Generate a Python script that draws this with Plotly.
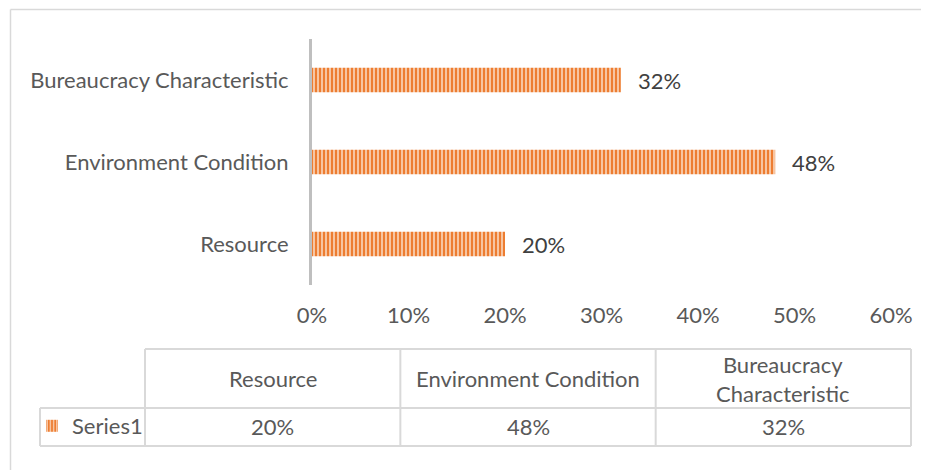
import plotly.graph_objects as go

# ---------------- data ----------------
categories = ["Resource", "Environment Condition", "Bureaucracy Characteristic"]
values = [0.20, 0.48, 0.32]
series_name = "Series1"
x_tick_values = [0, 0.1, 0.2, 0.3, 0.4, 0.5, 0.6]
x_tick_labels = ["0%", "10%", "20%", "30%", "40%", "50%", "60%"]
table_headers = ["Resource", "Environment Condition", "Bureaucracy<br>Characteristic"]
table_values = ["20%", "48%", "32%"]

# ---------------- layout geometry (screen pixels, page body has 8px margin) ----------------
OFF = 8
W, H = 929 - OFF, 470 - OFF
PLOT_X0, PLOT_X1, PLOT_Y0, PLOT_Y1 = 312, 891, 39, 285  # screen coords
L = PLOT_X0 - OFF
R = W - (PLOT_X1 - OFF)
T = PLOT_Y0 - OFF
B = H - (PLOT_Y1 - OFF)
PW = W - L - R
PH = H - T - B

def px(x):
    return (x - PLOT_X0) / PW

def py(y):
    return (PLOT_Y1 - y) / PH

FONT = "Lato"
FS = 22
TICK_COLOR = "#595959"
LABEL_COLOR = "#404040"
GRID = "#D9D9D9"

fig = go.Figure()
fig.add_trace(go.Bar(
    y=categories, x=values, orientation="h", name=series_name,
    marker=dict(
        color="#ED7D31",
        line=dict(width=0),
        pattern=dict(shape="|", fillmode="replace", bgcolor="#ED7D31",
                     fgcolor="#F9CDAE", size=4, solidity=0.45),
    ),
    showlegend=True,
))

# data labels
for c, v in zip(categories, values):
    fig.add_annotation(x=v, y=c, xref="x", yref="y", text=f"{v:.0%}",
                       showarrow=False, xanchor="left", xshift=15,
                       font=dict(family=FONT, size=FS, color=LABEL_COLOR))

shapes = []
def line(x0, y0, x1, y1, color=GRID, width=2):
    shapes.append(dict(type="line", xref="paper", yref="paper",
                       x0=px(x0), y0=py(y0), x1=px(x1), y1=py(y1),
                       line=dict(color=color, width=width)))

# outer chart border (top & left visible)
line(10.5, 9.5, 940, 9.5, width=1.5)
line(10.5, 9.5, 10.5, 480, width=1.5)

# data table
t_left, c0, c_right = 40, 145, 911
y_top, y_mid, y_bot = 349, 408, 446
col_w = (c_right - c0) / len(table_headers)
col_x = [c0 + i * col_w for i in range(len(table_headers) + 1)]
line(c0, y_top, c_right, y_top)
line(t_left, y_mid, c_right, y_mid)
line(t_left, y_bot, c_right, y_bot)
line(t_left, y_mid, t_left, y_bot)
for xx in col_x:
    line(xx, y_top, xx, y_bot)

for i, (h, v) in enumerate(zip(table_headers, table_values)):
    cx = (col_x[i] + col_x[i + 1]) / 2
    fig.add_annotation(x=px(cx), y=py((y_top + y_mid) / 2), xref="paper", yref="paper",
                       text=h, showarrow=False, xanchor="center", yanchor="middle",
                       font=dict(family=FONT, size=FS, color=TICK_COLOR))
    fig.add_annotation(x=px(cx), y=py((y_mid + y_bot) / 2 - 1), xref="paper", yref="paper",
                       text=v, showarrow=False, xanchor="center", yanchor="middle",
                       font=dict(family=FONT, size=FS, color=TICK_COLOR))

fig.update_layout(
    width=W, height=H,
    margin=dict(l=L, r=R, t=T, b=B, autoexpand=False),
    paper_bgcolor="white", plot_bgcolor="white",
    bargap=0.7,
    font=dict(family=FONT, size=FS, color=TICK_COLOR),
    shapes=shapes,
    legend=dict(x=px(32), y=py((y_mid + y_bot) / 2 - 1), xanchor="left", yanchor="middle",
                bgcolor="rgba(0,0,0,0)", borderwidth=0, itemwidth=30,
                font=dict(family=FONT, size=FS, color=TICK_COLOR)),
    xaxis=dict(range=[0, 0.6], tickvals=x_tick_values, ticktext=x_tick_labels,
               showgrid=False, zeroline=False, showline=False, ticks="",
               ticklabelstandoff=15, tickfont=dict(family=FONT, size=FS, color=TICK_COLOR)),
    yaxis=dict(categoryorder="array", categoryarray=categories, range=[-0.5, 2.5],
               showgrid=False, zeroline=False, showline=True, linecolor="#BFBFBF",
               linewidth=3, ticks="", ticklabelstandoff=16,
               tickfont=dict(family=FONT, size=FS, color=TICK_COLOR)),
)

fig.write_html("out.html")
